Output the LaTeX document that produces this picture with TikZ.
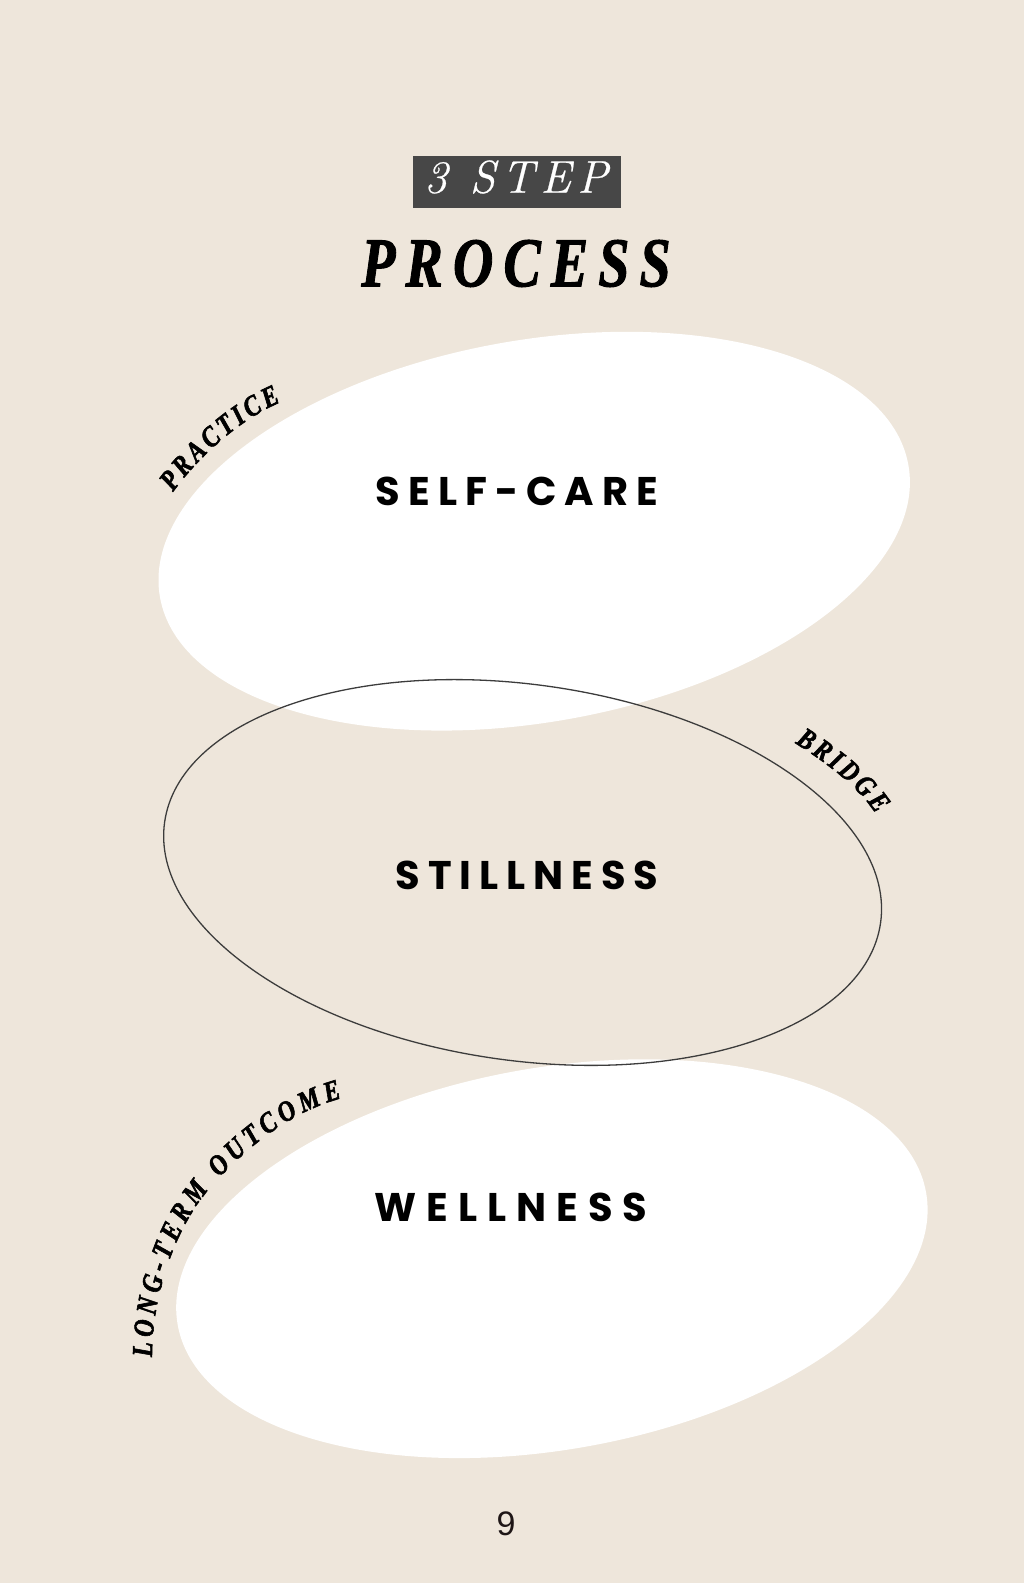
\documentclass[tikz,border=0pt]{standalone}
\usepackage{fontspec}
\usepackage{graphicx}
\usetikzlibrary{shapes.geometric,decorations.text}
\newfontfamily\popfont{Poppins}
\newfontfamily\serfont{Liberation Serif}
\newfontfamily\numfont{Liberation Sans}
\newfontfamily\lmfont{Latin Modern Roman}
\definecolor{bg}{RGB}{238,230,219}
\definecolor{boxgray}{RGB}{71,71,71}
\definecolor{linegray}{RGB}{60,60,60}
\definecolor{numcol}{RGB}{30,22,22}
\tikzset{
  blob/.style={ellipse, inner sep=0pt, minimum width=760pt, minimum height=382pt, fill=white, rotate=10},
  ring/.style={ellipse, inner sep=0pt, minimum width=723pt, minimum height=376pt, draw=linegray, line width=1.3pt, rotate=-8},
  steplabel/.style={font=\popfont\bfseries\fontsize{40}{40}\selectfont\addfontfeature{LetterSpace=#1}, text=black, inner sep=0pt},
  steplabel/.default=20,
  curvelabel/.style={decorate, decoration={text along path, text align={fit to path}, text={|\serfont\bfseries\itshape\fontsize{29}{29}\selectfont\addfontfeature{FakeStretch=0.82,FakeBold=2}|#1}}}
}
\begin{document}
\begin{tikzpicture}[x=1pt,y=1pt]
\fill[bg] (0,0) rectangle (1024,1583);
\useasboundingbox (0,0) rectangle (1024,1583);

% header
\node[fill=boxgray, minimum width=208pt, minimum height=52pt, inner sep=0pt] (box) at (517,1401) {};
\node[text=white, inner sep=0pt, font=\lmfont\itshape\fontsize{46}{46}\selectfont\addfontfeature{LetterSpace=14,FakeBold=0.5}] (step) at (516,1406) {3 STEP};
\node[inner sep=0pt, font=\serfont\bfseries\itshape\fontsize{56}{56}\selectfont\addfontfeature{LetterSpace=18,FakeBold=1.5}] (process) at (516,1319.5) {\scalebox{1}[1.25]{PROCESS}};

% ellipses
\node[blob] (e1) at (534.2,1051.8) {};
\node[blob] (e3) at (551.9,324.3) {};
\node[ring] (e2) at (522.6,710.5) {};

% main labels
\node[steplabel] (selfcare) at (517,1091.3) {SELF-CARE};
\node[steplabel] (stillness) at (527,707.5) {STILLNESS};
\node[steplabel=25] (wellness) at (511,375.5) {WELLNESS};

% curved labels
\path[curvelabel={PRACTICE}] (173,1091) .. controls (197,1124) and (238,1163) .. (281,1181);
\path[curvelabel={BRIDGE}] (795,840) .. controls (825,821) and (857,798) .. (876,769);
\path[curvelabel={LONG-TERM OUTCOME}] (152,226) .. controls (152,288) and (175,355) .. (210,395) .. controls (245,435) and (290,471) .. (342,485);

% page number
\node[inner sep=0pt, text=numcol, font=\numfont\fontsize{34}{34}\selectfont] (pagenum) at (506,59) {9};
\end{tikzpicture}
\end{document}
